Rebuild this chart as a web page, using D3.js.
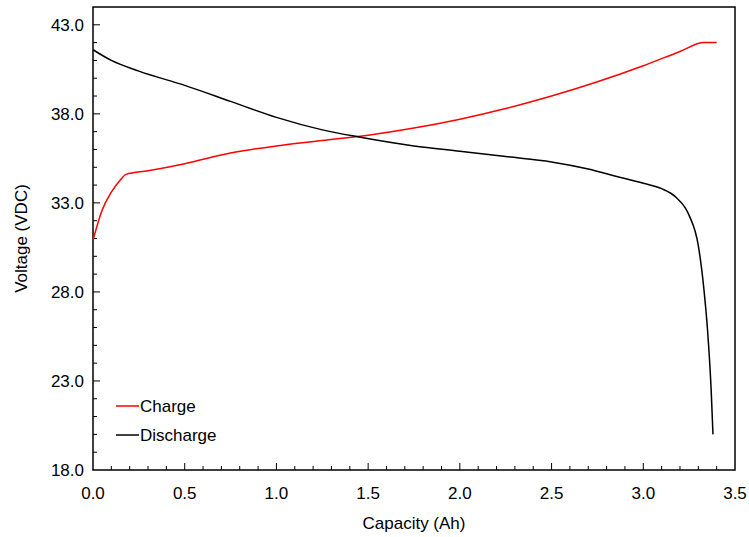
<!DOCTYPE html>
<html><head><meta charset="utf-8">
<script src="https://cdn.jsdelivr.net/npm/d3@7"></script>
<style>body{margin:0;background:#fff}text{font-family:"Liberation Sans",Arial,sans-serif}</style>
</head><body><div id="chart"></div>
<script>
const chargeCap  = [0, 0.05, 0.1, 0.15, 0.18, 0.3, 0.5, 0.75, 1.0, 1.25, 1.5, 1.75, 2.0, 2.25, 2.5, 2.75, 3.0, 3.2, 3.33, 3.4];
const chargeV    = [30.9, 32.6, 33.6, 34.3, 34.6, 34.8, 35.2, 35.8, 36.2, 36.5, 36.8, 37.2, 37.7, 38.3, 39.0, 39.8, 40.7, 41.5, 42.0, 42.0];
const dischCap   = [0, 0.1, 0.25, 0.5, 0.75, 1.0, 1.25, 1.45, 1.75, 2.0, 2.25, 2.5, 2.7, 2.85, 3.0, 3.1, 3.18, 3.25, 3.3, 3.33, 3.35, 3.37, 3.38];
const dischV     = [41.6, 41.0, 40.4, 39.6, 38.7, 37.8, 37.1, 36.7, 36.2, 35.9, 35.6, 35.3, 34.9, 34.5, 34.1, 33.8, 33.3, 32.3, 30.6, 28.2, 25.9, 22.5, 20.0];
const xTicks = [0, 0.5, 1, 1.5, 2, 2.5, 3, 3.5];
const yTicks = [18, 23, 28, 33, 38, 43];

const W = 749, H = 537;
const m = {left: 93, right: 14, top: 7, bottom: 67};
const x = d3.scaleLinear().domain([0, 3.5]).range([m.left, W - m.right]);
const y = d3.scaleLinear().domain([18, 44]).range([H - m.bottom, m.top]);

const svg = d3.select('#chart').append('svg').attr('width', W).attr('height', H);

svg.append('rect').attr('x', x(0)).attr('y', y(44))
  .attr('width', x(3.5) - x(0)).attr('height', y(18) - y(44))
  .attr('fill', 'none').attr('stroke', '#000').attr('stroke-width', 1.5);

// minor ticks
svg.append('g').selectAll('line').data(d3.range(1, 35)).enter().append('line')
  .attr('x1', d => x(d / 10)).attr('x2', d => x(d / 10))
  .attr('y1', y(18)).attr('y2', d => y(18) - (d % 5 === 0 ? 7 : 4))
  .attr('stroke', '#000');
svg.append('g').selectAll('line').data(d3.range(19, 44)).enter().append('line')
  .attr('y1', d => y(d)).attr('y2', d => y(d))
  .attr('x1', x(0)).attr('x2', d => x(0) + ((d - 18) % 5 === 0 ? 7 : 4))
  .attr('stroke', '#000');

svg.append('g').selectAll('text').data(xTicks).enter().append('text')
  .attr('x', d => x(d)).attr('y', y(18) + 29).attr('text-anchor', 'middle')
  .style('font-size', '17px').text(d => d.toFixed(1));
svg.append('g').selectAll('text').data(yTicks).enter().append('text')
  .attr('x', x(0) - 9).attr('y', d => y(d) + 6).attr('text-anchor', 'end')
  .style('font-size', '17px').text(d => d.toFixed(1));

svg.append('text').attr('x', (x(0) + x(3.5)) / 2).attr('y', 529)
  .attr('text-anchor', 'middle').style('font-size', '17px').text('Capacity (Ah)');
svg.append('text').attr('transform', `translate(27,${(y(18) + y(44)) / 2}) rotate(-90)`)
  .attr('text-anchor', 'middle').style('font-size', '17px').text('Voltage (VDC)');

const line = d3.line().x(d => x(d[0])).y(d => y(d[1])).curve(d3.curveMonotoneX);
svg.append('path').datum(chargeCap.map((c, i) => [c, chargeV[i]]))
  .attr('d', line).attr('fill', 'none').attr('stroke', '#ff0000').attr('stroke-width', 1.5);
svg.append('path').datum(dischCap.map((c, i) => [c, dischV[i]]))
  .attr('d', line).attr('fill', 'none').attr('stroke', '#000').attr('stroke-width', 1.5);

const legend = [['Charge', '#ff0000'], ['Discharge', '#000']];
const lg = svg.append('g').selectAll('g').data(legend).enter().append('g')
  .attr('transform', (d, i) => `translate(116,${406 + i * 29})`);
lg.append('line').attr('x1', 0).attr('x2', 23).attr('stroke', d => d[1]).attr('stroke-width', 1.5);
lg.append('text').attr('x', 24).attr('y', 6).style('font-size', '17px').text(d => d[0]);
</script></body></html>
